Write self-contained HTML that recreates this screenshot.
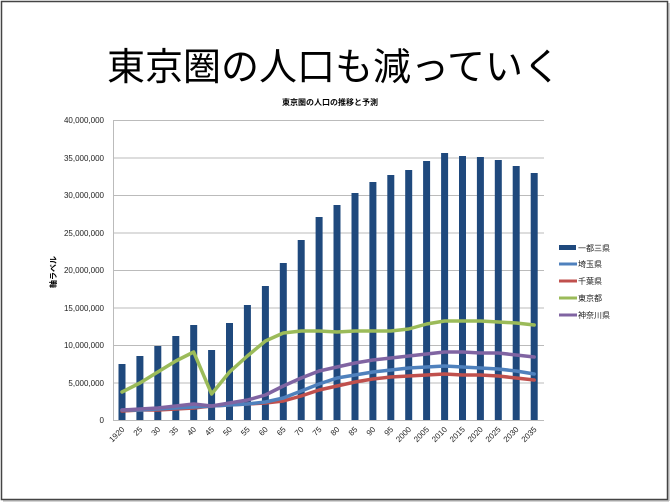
<!DOCTYPE html>
<html><head><meta charset="utf-8"><style>
html,body{margin:0;padding:0;background:#fff;}
svg{display:block;font-family:"Liberation Sans","Noto Sans CJK JP",sans-serif;}
</style></head><body>
<svg width="670" height="502" viewBox="0 0 670 502" xmlns="http://www.w3.org/2000/svg">
<rect x="0" y="0" width="670" height="502" fill="#fff"/>
<rect x="1.5" y="1.5" width="666" height="498" fill="none" stroke="#444" stroke-width="1.5"/>
<line x1="3" y1="501" x2="669" y2="501" stroke="#aaa"/>
<line x1="669" y1="3" x2="669" y2="501" stroke="#aaa"/>
<text x="334" y="80" text-anchor="middle" font-size="38" font-family="Noto Sans CJK JP, sans-serif">東京圏の人口も減っていく</text>
<text x="330" y="105" text-anchor="middle" font-size="8" font-weight="bold" font-family="Noto Sans CJK JP, sans-serif">東京圏の人口の推移と予測</text>
<g stroke="#bbb" stroke-width="1">
<line x1="113" y1="120.5" x2="544" y2="120.5"/><line x1="113" y1="158" x2="544" y2="158"/>
<line x1="113" y1="195.5" x2="544" y2="195.5"/><line x1="113" y1="233" x2="544" y2="233"/>
<line x1="113" y1="270.5" x2="544" y2="270.5"/><line x1="113" y1="308" x2="544" y2="308"/>
<line x1="113" y1="345.5" x2="544" y2="345.5"/><line x1="113" y1="383" x2="544" y2="383"/>
<line x1="113" y1="420.5" x2="544" y2="420.5"/><line x1="113.5" y1="120" x2="113.5" y2="421"/>
</g>
<g font-size="8" fill="#222" text-anchor="end">
<text x="104" y="123">40,000,000</text><text x="104" y="161">35,000,000</text>
<text x="104" y="198">30,000,000</text><text x="104" y="236">25,000,000</text>
<text x="104" y="273">20,000,000</text><text x="104" y="311">15,000,000</text>
<text x="104" y="348">10,000,000</text><text x="104" y="386">5,000,000</text>
<text x="104" y="423">0</text>
</g>
<text transform="translate(56,272) rotate(-90)" text-anchor="middle" font-size="8" font-weight="bold" font-family="Noto Sans CJK JP, sans-serif">軸ラベル</text>
<g fill="#1f497d">
<rect x="118.5" y="364" width="7" height="56"/><rect x="136.4" y="356" width="7" height="64"/>
<rect x="154.3" y="346" width="7" height="74"/><rect x="172.3" y="336" width="7" height="84"/>
<rect x="190.2" y="325" width="7" height="95"/><rect x="208.1" y="350" width="7" height="70"/>
<rect x="226" y="323" width="7" height="97"/><rect x="243.9" y="305" width="7" height="115"/>
<rect x="261.9" y="286" width="7" height="134"/><rect x="279.8" y="263" width="7" height="157"/>
<rect x="297.7" y="240" width="7" height="180"/><rect x="315.6" y="217" width="7" height="203"/>
<rect x="333.5" y="205" width="7" height="215"/><rect x="351.5" y="193" width="7" height="227"/>
<rect x="369.4" y="182" width="7" height="238"/><rect x="387.3" y="175" width="7" height="245"/>
<rect x="405.2" y="170" width="7" height="250"/><rect x="423.1" y="161" width="7" height="259"/>
<rect x="441.1" y="153" width="7" height="267"/><rect x="459" y="156" width="7" height="264"/>
<rect x="476.9" y="157" width="7" height="263"/><rect x="494.8" y="160" width="7" height="260"/>
<rect x="512.7" y="166" width="7" height="254"/><rect x="530.7" y="173" width="7" height="247"/>
</g>
<g fill="none" stroke-width="3.5" stroke-linejoin="round" stroke-linecap="round">
<polyline stroke="#c0504d" points="122,411 139.9,410 157.8,410 175.8,409 193.7,408 211.6,406 229.5,405 247.4,404 265.4,403 283.3,401 301.2,396 319.1,390 337,386 355,382 372.9,379 390.8,377 408.7,376 426.6,375 444.6,374 462.5,375 480.4,375 498.3,376 516.2,378 534.2,380"/>
<polyline stroke="#4f81bd" points="122,410 139.9,410 157.8,409 175.8,408 193.7,407 211.6,406 229.5,405 247.4,404 265.4,402 283.3,398 301.2,391 319.1,384 337,378 355,375 372.9,372 390.8,370 408.7,368 426.6,367 444.6,366 462.5,367 480.4,368 498.3,369 516.2,371 534.2,374"/>
<polyline stroke="#8064a2" points="122,410 139.9,409 157.8,408 175.8,406 193.7,404 211.6,406 229.5,403 247.4,400 265.4,395 283.3,386 301.2,378 319.1,371 337,367 355,363 372.9,360 390.8,358 408.7,356 426.6,354 444.6,352 462.5,352 480.4,353 498.3,353 516.2,355 534.2,357"/>
<polyline stroke="#9bbb59" points="122,392 139.9,383 157.8,372 175.8,361 193.7,352 211.6,394 229.5,372 247.4,356 265.4,341 283.3,333 301.2,331 319.1,331 337,332 355,331 372.9,331 390.8,331 408.7,329 426.6,324 444.6,321 462.5,321 480.4,321 498.3,322 516.2,323 534.2,325"/>
</g>
<g font-size="8" fill="#222" text-anchor="end">
<text transform="translate(125,430) rotate(-45)">1920</text>
<text transform="translate(142.9,430) rotate(-45)">25</text>
<text transform="translate(160.8,430) rotate(-45)">30</text>
<text transform="translate(178.8,430) rotate(-45)">35</text>
<text transform="translate(196.7,430) rotate(-45)">40</text>
<text transform="translate(214.6,430) rotate(-45)">45</text>
<text transform="translate(232.5,430) rotate(-45)">50</text>
<text transform="translate(250.4,430) rotate(-45)">55</text>
<text transform="translate(268.4,430) rotate(-45)">60</text>
<text transform="translate(286.3,430) rotate(-45)">65</text>
<text transform="translate(304.2,430) rotate(-45)">70</text>
<text transform="translate(322.1,430) rotate(-45)">75</text>
<text transform="translate(340,430) rotate(-45)">80</text>
<text transform="translate(358,430) rotate(-45)">85</text>
<text transform="translate(375.9,430) rotate(-45)">90</text>
<text transform="translate(393.8,430) rotate(-45)">95</text>
<text transform="translate(411.7,430) rotate(-45)">2000</text>
<text transform="translate(429.6,430) rotate(-45)">2005</text>
<text transform="translate(447.6,430) rotate(-45)">2010</text>
<text transform="translate(465.5,430) rotate(-45)">2015</text>
<text transform="translate(483.4,430) rotate(-45)">2020</text>
<text transform="translate(501.3,430) rotate(-45)">2025</text>
<text transform="translate(519.2,430) rotate(-45)">2030</text>
<text transform="translate(537.2,430) rotate(-45)">2035</text>
</g>
<g font-size="8" fill="#222" font-family="Noto Sans CJK JP, sans-serif">
<rect x="559" y="245" width="17" height="5" fill="#1f497d"/><text x="578" y="251">一都三県</text>
<line x1="559" y1="264" x2="577" y2="264" stroke="#4f81bd" stroke-width="3"/><text x="578" y="267">埼玉県</text>
<line x1="559" y1="281" x2="577" y2="281" stroke="#c0504d" stroke-width="3"/><text x="578" y="284">千葉県</text>
<line x1="559" y1="298" x2="577" y2="298" stroke="#9bbb59" stroke-width="3"/><text x="578" y="301">東京都</text>
<line x1="559" y1="315" x2="577" y2="315" stroke="#8064a2" stroke-width="3"/><text x="578" y="318">神奈川県</text>
</g>
</svg>
</body></html>
